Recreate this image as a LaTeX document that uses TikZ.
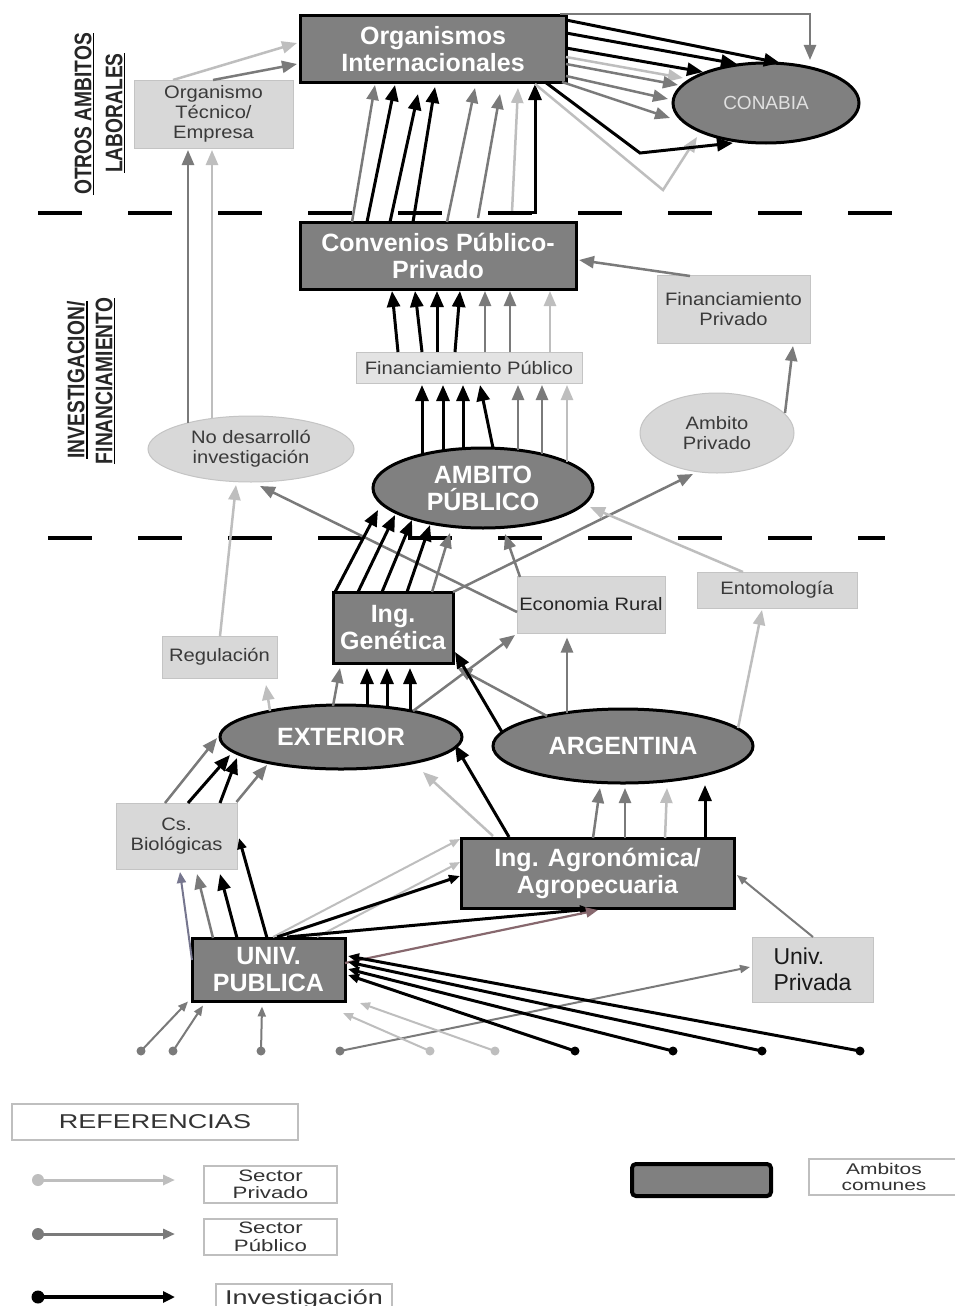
\documentclass[tikz,border=0pt]{standalone}
\usepackage{fontspec}
\setmainfont{Liberation Sans}
\newfontfamily\narrowsans[FakeStretch=0.8]{Liberation Sans}
\newfontfamily\widesans[FakeStretch=1.35]{Liberation Sans}
\newfontfamily\semiwide[FakeStretch=1.12]{Liberation Sans}
\usetikzlibrary{shapes.geometric,arrows.meta}
\definecolor{darkfill}{HTML}{808080}
\definecolor{lightfill}{HTML}{D8D8D8}
\definecolor{lightedge}{HTML}{C4C4C4}
\definecolor{pubc}{HTML}{7A7A7A}
\definecolor{pric}{HTML}{BEBEBE}
\definecolor{txtc}{HTML}{3A3A3A}
\definecolor{purpc}{HTML}{76768E}
\definecolor{brownc}{HTML}{87686E}
\tikzset{
 darkbox/.style={rectangle, fill=darkfill, draw=black, line width=3pt, text=white, font=\fontsize{25}{27}\selectfont\bfseries, align=center, inner sep=0pt},
 lightbox/.style={rectangle, fill=lightfill, draw=lightedge, line width=1pt, text=txtc, font=\semiwide\fontsize{18}{20}\selectfont, align=center, inner sep=0pt},
 darkell/.style={ellipse, fill=darkfill, draw=black, line width=3pt, text=white, font=\fontsize{25}{27}\selectfont\bfseries, align=center, inner sep=0pt},
 lightell/.style={ellipse, fill=lightfill, draw=lightedge, line width=1pt, text=txtc, font=\semiwide\fontsize{18}{20}\selectfont, align=center, inner sep=0pt},
 sidelab/.style={rotate=90, font=\narrowsans\fontsize{24}{26}\selectfont\bfseries, inner xsep=0pt, inner ysep=2pt, text=black!85},
 legbox/.style={rectangle, draw=black!25, line width=1.5pt, fill=white, inner sep=0pt, align=center, text=black!80, font=\widesans\fontsize{16.5}{17.5}\selectfont},
 inv/.style={draw=black, line width=3pt, -{Triangle[length=16pt,width=13pt]}},
 pub/.style={draw=pubc, line width=2.5pt, -{Triangle[length=15pt,width=12pt]}},
 pri/.style={draw=pric, line width=2.5pt, -{Triangle[length=15pt,width=12pt]}},
 thinarr/.style={line width=2pt, -{Triangle[length=10pt,width=8pt]}},
 invs/.style={draw=black, line width=3pt, -{Triangle[length=11pt,width=9pt]}},
 dot/.style={circle, inner sep=0pt, minimum size=9pt},
}
\begin{document}
\begin{tikzpicture}[x=1pt,y=-1pt]
\useasboundingbox (0,0) rectangle (954,1306);
\fill[white] (0,0) rectangle (954,1306);

% separators
\draw[line width=3.5pt, dash pattern=on 44pt off 46pt] (38,213) -- (895,213);
\draw[line width=3.5pt, dash pattern=on 44pt off 46pt] (48,538) -- (885,538);

% side labels
\node[sidelab] (t1) at (83,114) {OTROS AMBITOS};
\draw[line width=1.5pt] (t1.south west) -- (t1.south east);
\node[sidelab] (t2) at (114,113) {LABORALES};
\draw[line width=1.5pt] (t2.south west) -- (t2.south east);
\node[sidelab] (t3) at (76,380) {INVESTIGACION/};
\draw[line width=1.5pt] (t3.south west) -- (t3.south east);
\node[sidelab] (t4) at (104,381) {FINANCIAMIENTO};
\draw[line width=1.5pt] (t4.south west) -- (t4.south east);

% nodes
\node[darkbox, minimum width=266pt, minimum height=66pt] (org) at (433,49) {Organismos\\Internacionales};
\node[lightbox, minimum width=159pt, minimum height=68pt] (tec) at (213.5,114) {Organismo\\Técnico/\\Empresa};
\node[darkell, minimum width=186pt, minimum height=80pt, font=\fontsize{19}{21}\selectfont, text=black!12] (conabia) at (766,103) {CONABIA};
\node[darkbox, minimum width=276pt, minimum height=67pt] (conv) at (438,255.5) {Convenios Público-\\Privado};
\node[lightbox, minimum width=153pt, minimum height=68pt] (finpriv) at (733.5,309) {Financiamiento\\Privado};
\node[lightbox, minimum width=226pt, minimum height=31pt, fill=black!11] (finpub) at (469,367.5) {Financiamiento Público};
\node[lightell, minimum width=206pt, minimum height=66pt] (nodes) at (251,449) {No desarrolló\\investigación};
\node[lightell, minimum width=154pt, minimum height=80pt] (ambpriv) at (717,433) {Ambito\\Privado};
\node[darkell, minimum width=220pt, minimum height=80pt] (ambpub) at (483,488) {AMBITO\\PÚBLICO};
\node[darkbox, minimum width=120pt, minimum height=71pt] (ingen) at (393,627.5) {Ing.\\Genética};
\node[lightbox, minimum width=148pt, minimum height=57pt, text=black!85] (ecorur) at (591,604.5) {Economia Rural};
\node[lightbox, minimum width=160pt, minimum height=36pt] (ento) at (777,590) {Entomología};
\node[lightbox, minimum width=115pt, minimum height=42pt] (regul) at (219.5,657) {Regulación};
\node[darkell, minimum width=242pt, minimum height=64pt] (ext) at (341,737) {EXTERIOR};
\node[darkell, minimum width=260pt, minimum height=74pt] (arg) at (623,746) {ARGENTINA};
\node[lightbox, minimum width=121pt, minimum height=66pt] (csbio) at (176.5,836) {Cs.\\Biológicas};
\node[darkbox, minimum width=273pt, minimum height=70pt] (agro) at (597.5,873) {Ing. Agronómica/\\Agropecuaria};
\node[darkbox, minimum width=153pt, minimum height=63pt] (univ) at (268.5,969.5) {UNIV.\\PUBLICA};
\node[lightbox, minimum width=121pt, minimum height=65pt, align=left, text=black!90, font=\fontsize{23}{26}\selectfont] (upriv) at (812.5,969.5) {Univ.\\Privada};

% source dots
\node[dot, fill=pubc] (s1) at (141,1051) {};
\node[dot, fill=pubc] (s2) at (173,1051) {};
\node[dot, fill=pubc] (s3) at (261,1051) {};
\node[dot, fill=pubc] (s4) at (340,1051) {};
\node[dot, fill=pric] (s5) at (430,1051) {};
\node[dot, fill=pric] (s6) at (495,1051) {};
\node[dot, fill=black] (s7) at (575,1051) {};
\node[dot, fill=black] (s8) at (673,1051) {};
\node[dot, fill=black] (s9) at (762,1051) {};
\node[dot, fill=black] (s10) at (860,1051) {};

% ---- top level edges
\draw[pri] ([shift={(-40.5,-34)}]tec.center) -- ([shift={(-136,-6)}]org.center);
\draw[pub] ([shift={(-0.5,-34)}]tec.center) -- ([shift={(-136,15)}]org.center);
\draw[pub] ([shift={(-63,-26)}]nodes.center) -- ([shift={(-25.5,36)}]tec.center);
\draw[pri] ([shift={(-39,-31)}]nodes.center) -- ([shift={(-1.5,36)}]tec.center);

\draw[pub] ([shift={(-86,-33.5)}]conv.center) -- ([shift={(-58,36)}]org.center);
\draw[inv] ([shift={(-71,-33.5)}]conv.center) -- ([shift={(-38,36)}]org.center);
\draw[inv] ([shift={(-48,-33.5)}]conv.center) -- ([shift={(-15,45)}]org.center);
\draw[inv] ([shift={(-25,-33.5)}]conv.center) -- ([shift={(2,38)}]org.center);
\draw[pub] ([shift={(9,-33.5)}]conv.center) -- ([shift={(42,39)}]org.center);
\draw[pub] ([shift={(40,-37.5)}]conv.center) -- ([shift={(67,45)}]org.center);
\draw[pri] ([shift={(74,-43.5)}]conv.center) -- ([shift={(85,39)}]org.center);
\draw[inv] ([shift={(50,-43.5)}]conv.center) -| ([shift={(102,35)}]org.center);

\coordinate (k1) at (640,153);
\coordinate (k2) at (663,190);
\draw[pub] ([shift={(127,-35)}]org.center) -| ([shift={(44,-43)}]conabia.center);
\draw[pri] ([shift={(133,8)}]org.center) -- ([shift={(-83,-25)}]conabia.center);
\draw[pub] ([shift={(133,15)}]org.center) -- ([shift={(-88,-18)}]conabia.center);
\draw[pub] ([shift={(133,27)}]org.center) -- ([shift={(-98,-4)}]conabia.center);
\draw[pub] ([shift={(129,33)}]org.center) -- ([shift={(-96,15)}]conabia.center);
\draw[pri] ([shift={(102,35)}]org.center) -- (k2) -- ([shift={(-69,34)}]conabia.center);
\draw[inv] ([shift={(133,-29)}]org.center) -- ([shift={(14,-40)}]conabia.center);
\draw[inv] ([shift={(133,-16)}]org.center) -- ([shift={(-29,-39)}]conabia.center);
\draw[inv] ([shift={(133,-1)}]org.center) -- ([shift={(-63,-31)}]conabia.center);
\draw[inv] ([shift={(112,33)}]org.center) -- (k1) -- ([shift={(-33,40)}]conabia.center);

% ---- convenios level
\draw[pub] ([shift={(-43.5,-33)}]finpriv.center) -- ([shift={(141,4.5)}]conv.center);
\draw[pub] ([shift={(68,-20)}]ambpriv.center) -- ([shift={(59.5,37)}]finpriv.center);

\draw[inv] ([shift={(-71,-15.5)}]finpub.center) -- ([shift={(-46,35.5)}]conv.center);
\draw[inv] ([shift={(-47,-15.5)}]finpub.center) -- ([shift={(-23,35.5)}]conv.center);
\draw[inv] ([shift={(-32,-15.5)}]finpub.center) -- ([shift={(-1,35.5)}]conv.center);
\draw[inv] ([shift={(-14,-15.5)}]finpub.center) -- ([shift={(22,35.5)}]conv.center);
\draw[pub] ([shift={(16,-15.5)}]finpub.center) -- ([shift={(47,35.5)}]conv.center);
\draw[pub] ([shift={(41,-15.5)}]finpub.center) -- ([shift={(72,35.5)}]conv.center);
\draw[pri] ([shift={(81,-15.5)}]finpub.center) -- ([shift={(112,35.5)}]conv.center);

\draw[inv] ([shift={(-61,-33)}]ambpub.center) -- ([shift={(-47,17.5)}]finpub.center);
\draw[inv] ([shift={(-40,-37)}]ambpub.center) -- ([shift={(-26,17.5)}]finpub.center);
\draw[inv] ([shift={(-20,-39)}]ambpub.center) -- ([shift={(-6,17.5)}]finpub.center);
\draw[inv] ([shift={(10,-40)}]ambpub.center) -- ([shift={(11,17.5)}]finpub.center);
\draw[pub] ([shift={(35,-38)}]ambpub.center) -- ([shift={(49,17.5)}]finpub.center);
\draw[pub] ([shift={(59,-34)}]ambpub.center) -- ([shift={(73,17.5)}]finpub.center);
\draw[pri] ([shift={(84,-26)}]ambpub.center) -- ([shift={(98,17.5)}]finpub.center);

% ---- middle
\draw[pri] ([shift={(0.5,-21)}]regul.center) -- ([shift={(-15,36)}]nodes.center);
\draw[pub] ([shift={(-74,7.5)}]ecorur.center) -- ([shift={(9,37)}]nodes.center);
\draw[pub] ([shift={(60,-35.5)}]ingen.center) -- ([shift={(-24,41)}]ambpriv.center);
\draw[pri] ([shift={(-34,-18)}]ento.center) -- ([shift={(107,19)}]ambpub.center);

\draw[inv] ([shift={(-58,-35.5)}]ingen.center) -- ([shift={(-105,22)}]ambpub.center);
\draw[inv] ([shift={(-35,-35.5)}]ingen.center) -- ([shift={(-88,27)}]ambpub.center);
\draw[inv] ([shift={(-11,-35.5)}]ingen.center) -- ([shift={(-71,32)}]ambpub.center);
\draw[inv] ([shift={(14,-35.5)}]ingen.center) -- ([shift={(-53,37)}]ambpub.center);
\draw[pub] ([shift={(39,-35.5)}]ingen.center) -- ([shift={(-33,45)}]ambpub.center);
\draw[pub] ([shift={(-71,-27.5)}]ecorur.center) -- ([shift={(22,46)}]ambpub.center);

\draw[pub] ([shift={(-8,-31)}]ext.center) -- ([shift={(-53,40.5)}]ingen.center);
\draw[inv] ([shift={(26,-31)}]ext.center) -- ([shift={(-26,40.5)}]ingen.center);
\draw[inv] ([shift={(46,-30)}]ext.center) -- ([shift={(-6,40.5)}]ingen.center);
\draw[inv] ([shift={(69,-26)}]ext.center) -- ([shift={(17,40.5)}]ingen.center);
\draw[pub] ([shift={(72,-26)}]ext.center) -- ([shift={(-76,30.5)}]ecorur.center);
\draw[pub] ([shift={(-76,-30)}]arg.center) -- ([shift={(64,40)}]ingen.center);
\draw[inv] ([shift={(-121,-14)}]arg.center) -- ([shift={(62,24.5)}]ingen.center);
\draw[pub] ([shift={(-56,-33)}]arg.center) -- ([shift={(-24,33)}]ecorur.center);
\draw[pri] ([shift={(115,-18)}]arg.center) -- ([shift={(-15,20)}]ento.center);
\draw[pri] ([shift={(-71,-26)}]ext.center) -- ([shift={(46.5,28)}]regul.center);

\draw[pub] ([shift={(-11.5,-33)}]csbio.center) -- ([shift={(-124,1)}]ext.center);
\draw[inv] ([shift={(11.5,-33)}]csbio.center) -- ([shift={(-111,18)}]ext.center);
\draw[inv] ([shift={(43.5,-33)}]csbio.center) -- ([shift={(-104,21)}]ext.center);
\draw[pub] ([shift={(60,-34)}]csbio.center) -- ([shift={(-74,28)}]ext.center);

\draw[pri] ([shift={(-104.5,-37)}]agro.center) -- ([shift={(82,35)}]ext.center);
\draw[inv] ([shift={(-88.5,-36)}]agro.center) -- ([shift={(114,8)}]ext.center);
\draw[pub] ([shift={(-4.5,-35)}]agro.center) -- ([shift={(-23,42)}]arg.center);
\draw[pub] ([shift={(27.5,-35)}]agro.center) -- ([shift={(2,42)}]arg.center);
\draw[pri] ([shift={(67.5,-35)}]agro.center) -- ([shift={(44,42)}]arg.center);
\draw[inv] ([shift={(107.5,-35)}]agro.center) -- ([shift={(82,39)}]arg.center);

% ---- university level
\draw[draw=purpc, line width=2pt, -{Triangle[length=11pt,width=9pt]}] ([shift={(-76.5,-9.5)}]univ.center) -- ([shift={(3.5,36)}]csbio.center);
\draw[pub] ([shift={(-55.5,-31.5)}]univ.center) -- ([shift={(20.5,38)}]csbio.center);
\draw[inv] ([shift={(-31.5,-31.5)}]univ.center) -- ([shift={(43.5,38)}]csbio.center);
\draw[invs] ([shift={(-1.5,-31.5)}]univ.center) -- ([shift={(62.5,2)}]csbio.center);

\draw[pri, thinarr] ([shift={(4.5,-32.5)}]univ.center) -- ([shift={(-137.5,-34)}]agro.center);
\draw[pri, thinarr] ([shift={(48.5,-32.5)}]univ.center) -- ([shift={(-137.5,-11)}]agro.center);
\draw[invs] ([shift={(8.5,-32.5)}]univ.center) -- ([shift={(-137.5,3)}]agro.center);
\draw[invs] ([shift={(18.5,-32.5)}]univ.center) -- ([shift={(-6.5,36)}]agro.center);
\draw[draw=brownc, line width=2.2pt, -{Triangle[length=12pt,width=10pt]}] ([shift={(76.5,-6.5)}]univ.center) -- ([shift={(0.5,37)}]agro.center);
\draw[pub, thinarr] ([shift={(0.5,-32.5)}]upriv.center) -- ([shift={(139.5,2)}]agro.center);

\draw[pub, thinarr] (s1.center) -- ([shift={(-80.5,32)}]univ.center);
\draw[pub, thinarr] (s2.center) -- ([shift={(-65.5,36)}]univ.center);
\draw[pub, thinarr] (s3.center) -- ([shift={(-6.5,37)}]univ.center);
\draw[pub, thinarr] (s4.center) -- ([shift={(-62.5,-2.5)}]upriv.center);
\draw[pri, thinarr] (s5.center) -- ([shift={(74.5,43.5)}]univ.center);
\draw[pri, thinarr] (s6.center) -- ([shift={(91.5,33.5)}]univ.center);
\draw[invs] (s7.center) -- ([shift={(79.5,5.5)}]univ.center);
\draw[invs] (s8.center) -- ([shift={(79.5,-0.5)}]univ.center);
\draw[invs] (s9.center) -- ([shift={(79.5,-7.5)}]univ.center);
\draw[invs] (s10.center) -- ([shift={(79.5,-13.5)}]univ.center);

% ---- legend
\node[legbox, minimum width=286pt, minimum height=36pt, font=\widesans\fontsize{20}{22}\selectfont] (ref) at (155,1122) {REFERENCIAS};
\node[dot, fill=pric, minimum size=12pt] (l1) at (38,1180) {};
\coordinate (l1e) at (175,1180);
\draw[pri, line width=3pt, -{Triangle[length=12pt,width=10pt]}] (l1.center) -- (l1e);
\node[dot, fill=pubc, minimum size=12pt] (l2) at (38,1234) {};
\coordinate (l2e) at (175,1234);
\draw[pub, line width=3pt, -{Triangle[length=12pt,width=10pt]}] (l2.center) -- (l2e);
\node[dot, fill=black, minimum size=13pt] (l3) at (38,1297) {};
\coordinate (l3e) at (175,1297);
\draw[inv, line width=3.5pt, -{Triangle[length=12pt,width=11pt]}] (l3.center) -- (l3e);
\node[legbox, minimum width=133pt, minimum height=37pt] (lsp) at (270.5,1184.5) {Sector\\Privado};
\node[legbox, minimum width=133pt, minimum height=36pt] (lspu) at (270.5,1237) {Sector\\Público};
\node[legbox, minimum width=176pt, minimum height=30pt, font=\widesans\fontsize{20}{22}\selectfont] (linv) at (304,1299) {Investigación};
\node[darkbox, rounded corners=4pt, line width=4pt, minimum width=139pt, minimum height=32pt] (lamb) at (701.5,1180) {};
\node[legbox, minimum width=150pt, minimum height=36pt, font=\widesans\fontsize{15.5}{16.5}\selectfont] (lambt) at (884,1177) {Ambitos\\comunes};
\end{tikzpicture}
\end{document}
